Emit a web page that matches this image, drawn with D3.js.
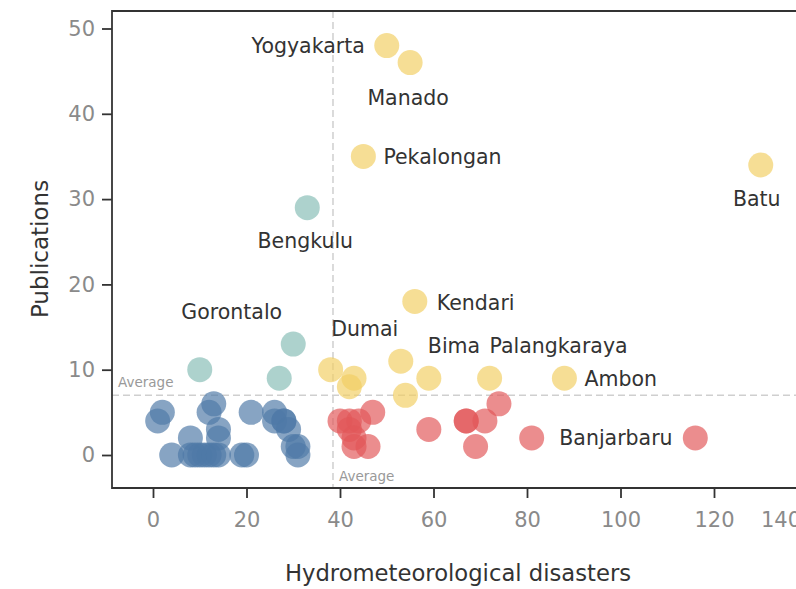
<!DOCTYPE html>
<html><head><meta charset="utf-8">
<script src="https://cdn.jsdelivr.net/npm/d3@7"></script>
<style>
html,body{margin:0;padding:0;background:#fff;}
svg{display:block;font-family:"DejaVu Sans",sans-serif;}
</style></head>
<body>
<svg id="chart" width="796" height="589"></svg>
<script>
// ---- data ----
const groups = ["blue","teal","yellow","red"];
const blueX = [1,2,4,8,8,9,10,11,12,13,12,13,14,14,14,19,20,21,26,26,28,28,29,30,31,31];
const blueY = [4,5,0,2,0,0,0,0,5,6,0,0,3,2,0,0,0,5,5,4,4,4,3,1,1,0];
const tealNames = ["Bengkulu","","Gorontalo",""];
const tealX = [33,30,10,27];
const tealY = [29,13,10,9];
const yellowNames = ["Yogyakarta","Manado","Pekalongan","Batu","Kendari","Dumai","","","","","Bima","Palangkaraya","Ambon"];
const yellowX = [50,55,45,130,56,38,43,42,53,54,59,72,88];
const yellowY = [48,46,35,34,18,10,9,8,11,7,9,9,9];
const redNames = ["","","","","","","","","","","","","","","","Banjarbaru"];
const redX = [40,42,44,47,42,43,43,46,59,67,67,71,74,69,81,116];
const redY = [4,4,4,5,3,2,1,1,3,4,4,4,6,1,2,2];
const xTicks = [0,20,40,60,80,100,120,140];
const yTicks = [0,10,20,30,40,50];
const avgDisasters = 38.5;
const avgPublications = 7.0;
const xTitle = "Hydrometeorological disasters";
const yTitle = "Publications";
const avgLabel = "Average";

// ---- styles / layout ----
const colors = {blue:"#4e79a7", teal:"#86bcb6", yellow:"#f1ce63", red:"#e15759"};
const R = 12.5;
const labelPos = {
  "Yogyakarta":[-22,0,"end"],
  "Manado":[-2,35,"middle"],
  "Pekalongan":[20,0,"start"],
  "Batu":[-4,34,"middle"],
  "Kendari":[22,1,"start"],
  "Dumai":[34,-41,"middle"],
  "Bima":[-1,-32,"start"],
  "Palangkaraya":[0,-32,"start"],
  "Ambon":[20,1,"start"],
  "Bengkulu":[-2,33,"middle"],
  "Gorontalo":[32,-58,"middle"],
  "Banjarbaru":[-136,0,"start"]
};

const svg = d3.select("#chart");
const x = d3.scaleLinear().domain([0,140]).range([153,807.5]);
const y = d3.scaleLinear().domain([0,50]).range([455,28.5]);
const pLeft = 112, pTop = 11, pBottom = 488, pRight = 830;

// average lines
svg.append("line").attr("x1",pLeft).attr("x2",pRight)
  .attr("y1",y(avgPublications)).attr("y2",y(avgPublications))
  .attr("stroke","#cfcfcf").attr("stroke-width",1.5).attr("stroke-dasharray","7,4");
svg.append("line").attr("x1",x(avgDisasters)).attr("x2",x(avgDisasters))
  .attr("y1",pTop).attr("y2",pBottom)
  .attr("stroke","#cfcfcf").attr("stroke-width",1.5).attr("stroke-dasharray","7,4");
svg.append("text").attr("x",pLeft+6).attr("y",y(avgPublications)-8)
  .attr("font-size",13.5).attr("fill","#999").text(avgLabel);
svg.append("text").attr("x",x(avgDisasters)+6).attr("y",pBottom-7)
  .attr("font-size",13.5).attr("fill","#999").text(avgLabel);

// points
function mk(g, xs, ys, names){ return xs.map((v,i)=>({g, x:v, y:ys[i], name:names?names[i]:""})); }
const pts = [].concat(
  mk("blue",blueX,blueY,null),
  mk("teal",tealX,tealY,tealNames),
  mk("yellow",yellowX,yellowY,yellowNames),
  mk("red",redX,redY,redNames)
);
svg.append("g").selectAll("circle").data(pts).join("circle")
  .attr("cx",d=>x(d.x)).attr("cy",d=>y(d.y)).attr("r",R)
  .attr("fill",d=>colors[d.g]).attr("fill-opacity",0.68);

// labels
svg.append("g").selectAll("text").data(pts.filter(d=>d.name && labelPos[d.name])).join("text")
  .attr("x",d=>x(d.x)+labelPos[d.name][0])
  .attr("y",d=>y(d.y)+labelPos[d.name][1])
  .attr("dy","0.35em")
  .attr("text-anchor",d=>labelPos[d.name][2])
  .attr("font-size",20.5).attr("fill","#333").text(d=>d.name);

// frame
svg.append("path").attr("d",`M${pRight},${pTop}H${pLeft}V${pBottom}H${pRight}`)
  .attr("fill","none").attr("stroke","#333").attr("stroke-width",1.8);

// axes
const yAxis = d3.axisLeft(y).tickValues(yTicks).tickSize(10).tickPadding(7);
const gy = svg.append("g").attr("transform",`translate(${pLeft},0)`).call(yAxis);
const xAxis = d3.axisBottom(x).tickValues(xTicks).tickSize(10).tickPadding(14);
const gx = svg.append("g").attr("transform",`translate(0,${pBottom})`).call(xAxis);
[gx,gy].forEach(g=>{
  g.select(".domain").remove();
  g.selectAll(".tick line").attr("stroke","#333").attr("stroke-width",1.8);
  g.selectAll(".tick text").attr("fill","#8a8a8a").attr("font-size",21)
    .attr("font-family","DejaVu Sans, sans-serif");
});
// last x label is pulled inside the view like the original
gx.selectAll(".tick").filter(d=>d===140).select("text").attr("x",-27);

// titles
svg.append("text").attr("x",458).attr("y",573).attr("dy","0.35em")
  .attr("text-anchor","middle").attr("font-size",22.7).attr("fill","#333").text(xTitle);
svg.append("text").attr("transform","translate(40,249) rotate(-90)").attr("dy","0.35em")
  .attr("text-anchor","middle").attr("font-size",23).attr("fill","#333").text(yTitle);
</script>
</body></html>
